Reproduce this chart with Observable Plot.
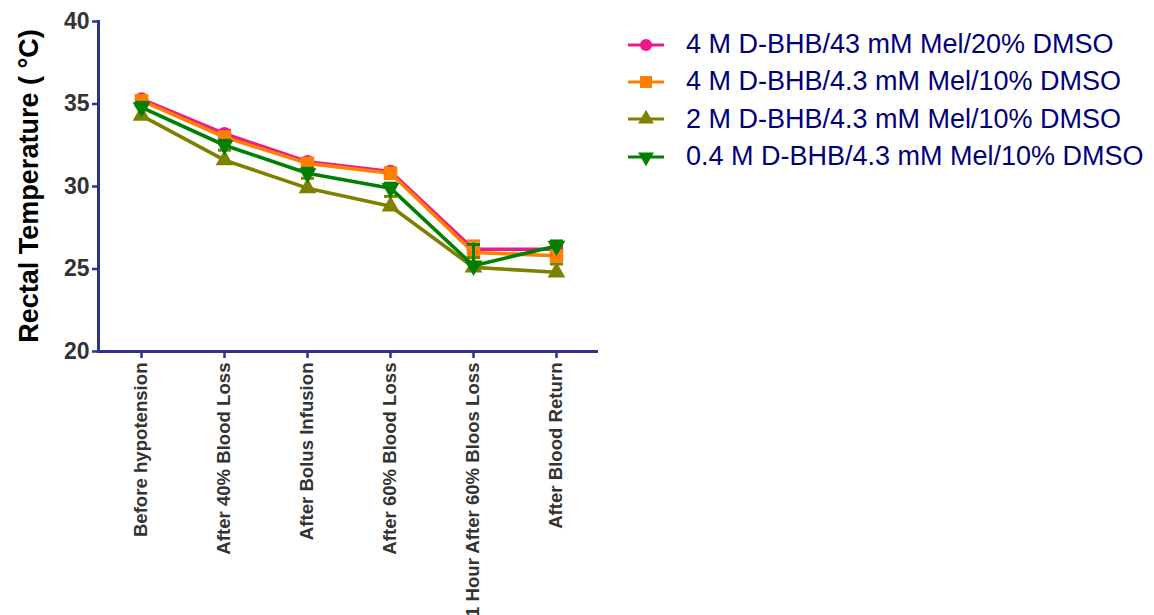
<!DOCTYPE html>
<html>
<head>
<meta charset="utf-8">
<script src="https://cdn.jsdelivr.net/npm/d3@7"></script>
<script src="https://cdn.jsdelivr.net/npm/@observablehq/plot@0.6"></script>
<style>
  body { margin: 0; background: #fff; font-family: "Liberation Sans", Arial, sans-serif; }
  #wrap { position: relative; width: 1154px; height: 615px; overflow: hidden; }
  #ylabel {
    position: absolute; left: 29px; top: 186px;
    transform: translate(-50%, -50%) rotate(-90deg);
    white-space: nowrap; font-weight: bold; font-size: 27px; color: #000;
  }
  #legend { position: absolute; left: 626px; top: 26px; }
  .row { display: flex; align-items: center; height: 37.3px; color: #00007a; font-size: 27px; white-space: nowrap; }
  .row svg { margin-right: 20px; flex: none; }
</style>
</head>
<body>
<div id="wrap">
  <div id="chart"></div>
  <div id="ylabel">Rectal Temperature ( °C)</div>
  <div id="legend"></div>
</div>
<script>
// Time points along the protocol
const stages = [
  "Before hypotension",
  "After 40% Blood Loss",
  "After Bolus Infusion",
  "After 60% Blood Loss",
  "1 Hour After 60% Bloos Loss",
  "After Blood Return"
];

// Treatment groups
const groups = [
  "4 M D-BHB/43 mM Mel/20% DMSO",
  "4 M D-BHB/4.3 mM Mel/10% DMSO",
  "2 M D-BHB/4.3 mM Mel/10% DMSO",
  "0.4 M D-BHB/4.3 mM Mel/10% DMSO"
];
const groupColors = ["#f0168c", "#ff8000", "#808000", "#008000"];

// Mean rectal temperature (°C) per group
const temp43Mel20 = [35.3, 33.2, 31.5, 30.9, 26.2, 26.2];
const temp4Mel10 = [35.2, 33.0, 31.4, 30.8, 26.0, 25.8];
const temp2Mel10 = [34.3, 31.6, 29.9, 28.8, 25.1, 24.8];
const temp04Mel10 = [34.8, 32.5, 30.8, 29.9, 25.2, 26.4];

// Standard error (upper bar only)
const sem43Mel20 = [0.2, 0.2, 0.2, 0.2, 0.2, 0.2];
const sem4Mel10 = [0.3, 0.3, 0.3, 0.3, 0.7, 0.8];
const sem2Mel10 = [0.7, 0.6, 0.6, 0.6, 0.6, 0.5];
const sem04Mel10 = [0.3, 0.3, 0.3, 0.3, 1.3, 0.3];

const yTicks = [20, 25, 30, 35, 40];

const navy = "#2e3192";

// Downward-pointing triangle (d3.symbolTriangle flipped)
const triangleDown = {
  draw(ctx, size) {
    const y = -Math.sqrt(size / (Math.sqrt(3) * 3));
    ctx.moveTo(0, -y * 2);
    ctx.lineTo(-Math.sqrt(3) * y, y);
    ctx.lineTo(Math.sqrt(3) * y, y);
    ctx.closePath();
  }
};
// Horizontal cap for error bars
const cap = {
  draw(ctx, size) {
    const w = Math.sqrt(size / Math.PI);
    ctx.moveTo(-w, 0);
    ctx.lineTo(w, 0);
  }
};

const series = [
  {name: groups[0], color: groupColors[0], values: temp43Mel20, sem: sem43Mel20, symbol: "circle", r: 6.8},
  {name: groups[1], color: groupColors[1], values: temp4Mel10, sem: sem4Mel10, symbol: "square", r: 7.6},
  {name: groups[2], color: groupColors[2], values: temp2Mel10, sem: sem2Mel10, symbol: "triangle", r: 6.6},
  {name: groups[3], color: groupColors[3], values: temp04Mel10, sem: sem04Mel10, symbol: triangleDown, r: 6.6}
];

const marks = [];
for (const s of series) {
  const rows = stages.map((stage, i) => ({stage, value: s.values[i], top: s.values[i] + s.sem[i]}));
  marks.push(
    Plot.line(rows, {x: "stage", y: "value", stroke: s.color, strokeWidth: 3.6}),
    Plot.ruleX(rows, {x: "stage", y1: "value", y2: "top", stroke: s.color, strokeWidth: 3}),
    Plot.dot(rows, {x: "stage", y: "top", symbol: cap, r: 6.5, stroke: s.color, strokeWidth: 3, fill: "none"}),
    Plot.dot(rows, {x: "stage", y: "value", symbol: s.symbol, r: s.r, fill: s.color, stroke: "none"})
  );
}

const chart = Plot.plot({
  width: 1154,
  height: 615,
  marginLeft: 98,
  marginRight: 556,
  marginTop: 21,
  marginBottom: 264,
  style: {fontFamily: "'Liberation Sans', Arial, sans-serif", background: "#fff", overflow: "hidden"},
  x: {type: "point", domain: stages, padding: 0.51},
  y: {domain: [20, 40]},
  marks: [
    Plot.axisY({ticks: yTicks, tickSize: 6, tickPadding: 3, stroke: navy, strokeWidth: 2.5, fill: "#333",
      fontSize: 23, fontWeight: "bold", label: null}),
    Plot.axisX({tickRotate: -90, tickSize: 7, tickPadding: 4, stroke: navy, strokeWidth: 2.5, fill: "#333",
      fontSize: 18.6, fontWeight: "bold", label: null}),
    Plot.frame({anchor: "left", stroke: navy, strokeWidth: 3}),
    Plot.ruleY([20], {stroke: navy, strokeWidth: 3}),
    ...marks
  ]
});
document.getElementById("chart").appendChild(chart);

// Legend: line segment with the group's marker, then its label
const legend = d3.select("#legend");
for (const s of series) {
  const row = legend.append("div").attr("class", "row");
  const svg = row.append("svg").attr("width", 40).attr("height", 20);
  svg.append("line").attr("x1", 2).attr("x2", 38).attr("y1", 10).attr("y2", 10)
    .attr("stroke", s.color).attr("stroke-width", 3);
  const size = Math.PI * s.r * s.r * 0.8;
  const sym = typeof s.symbol === "string"
    ? {circle: d3.symbolCircle, square: d3.symbolSquare, triangle: d3.symbolTriangle}[s.symbol]
    : s.symbol;
  svg.append("path").attr("transform", "translate(20,10)")
    .attr("d", d3.symbol(sym, size)()).attr("fill", s.color);
  row.append("span").text(s.name);
}
</script>
</body>
</html>
